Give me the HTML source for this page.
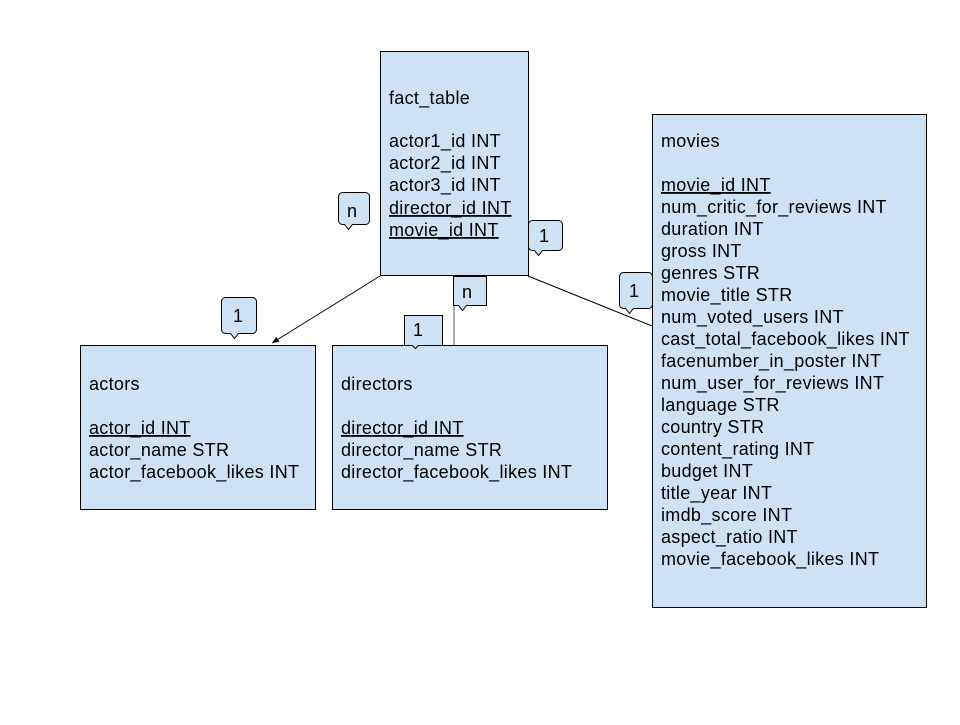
<!DOCTYPE html>
<html><head><style>
body{margin:0;background:#fff;width:960px;height:720px;overflow:hidden}
svg text{font-family:"Liberation Sans",Arial,sans-serif;font-size:18px;letter-spacing:0.3px;fill:#000}
</style></head><body>
<svg width="960" height="720" xmlns="http://www.w3.org/2000/svg">
<defs><marker id="a" markerWidth="8" markerHeight="8" refX="7" refY="4" orient="auto" markerUnits="userSpaceOnUse"><path d="M0,1 L7,4 L0,7 Z" fill="#000"/></marker></defs>
<g fill="#cfe2f3" stroke="#000" stroke-width="1">
<rect x="380.5" y="51.5" width="148" height="224"/>
<rect x="80.5" y="345.5" width="235" height="164"/>
<rect x="332.5" y="345.5" width="275" height="164"/>
<rect x="652.5" y="114.5" width="274" height="493"/>
</g>
<g stroke="#000" stroke-width="1" fill="none">
<line x1="380" y1="276" x2="272" y2="343" marker-end="url(#a)"/>
<line x1="454" y1="276" x2="454" y2="345" stroke="#555"/>
<line x1="528" y1="276" x2="652" y2="326"/>
</g>
<g fill="#cfe2f3" stroke="#000" stroke-width="1">
<path d="M342.5,192.5 h23 a4,4 0 0 1 4,4 v24 a4,4 0 0 1 -4,4 h-13 l-4,5 l-4,-5 h-2 a4,4 0 0 1 -4,-4 v-24 a4,4 0 0 1 4,-4z"/>
<path d="M532.5,220.5 h26 a4,4 0 0 1 4,4 v22 a4,4 0 0 1 -4,4 h-16 l-4,5 l-4,-5 h-2 a4,4 0 0 1 -4,-4 v-22 a4,4 0 0 1 4,-4z"/>
<path d="M453.5,276.5 h33 v29 h-20 l-4,5 l-4,-5 h-5z"/>
<path d="M404.5,315.5 h38 v30 h-24 l-3,3 l-3,-3 h-8z"/>
<path d="M225.5,297.5 h27 a4,4 0 0 1 4,4 v28 a4,4 0 0 1 -4,4 h-14 l-4,5 l-4,-5 h-5 a4,4 0 0 1 -4,-4 v-28 a4,4 0 0 1 4,-4z"/>
<path d="M623.5,272.5 h25 a4,4 0 0 1 4,4 v28 a4,4 0 0 1 -4,4 h-15 l-4,5 l-4,-5 h-2 a4,4 0 0 1 -4,-4 v-28 a4,4 0 0 1 4,-4z"/>
</g>
<text x="347" y="217">n</text>
<text x="539" y="242">1</text>
<text x="462" y="298">n</text>
<text x="413" y="336">1</text>
<text x="233" y="322">1</text>
<text x="629" y="297">1</text>
<g>
<text x="389" y="104">fact_table</text>
<text x="389" y="147">actor1_id INT</text>
<text x="389" y="169">actor2_id INT</text>
<text x="389" y="191">actor3_id INT</text>
<text x="389" y="214" text-decoration="underline">director_id INT</text>
<text x="389" y="236" text-decoration="underline">movie_id INT</text>
</g>
<g>
<text x="89" y="390">actors</text>
<text x="89" y="434" text-decoration="underline">actor_id INT</text>
<text x="89" y="456">actor_name STR</text>
<text x="89" y="478">actor_facebook_likes INT</text>
</g>
<g>
<text x="341" y="390">directors</text>
<text x="341" y="434" text-decoration="underline">director_id INT</text>
<text x="341" y="456">director_name STR</text>
<text x="341" y="478">director_facebook_likes INT</text>
</g>
<g>
<text x="661" y="147">movies</text>
<text x="661" y="191" text-decoration="underline">movie_id INT</text>
<text x="661" y="213">num_critic_for_reviews INT</text>
<text x="661" y="235">duration INT</text>
<text x="661" y="257">gross INT</text>
<text x="661" y="279">genres STR</text>
<text x="661" y="301">movie_title STR</text>
<text x="661" y="323">num_voted_users INT</text>
<text x="661" y="345">cast_total_facebook_likes INT</text>
<text x="661" y="367">facenumber_in_poster INT</text>
<text x="661" y="389">num_user_for_reviews INT</text>
<text x="661" y="411">language STR</text>
<text x="661" y="433">country STR</text>
<text x="661" y="455">content_rating INT</text>
<text x="661" y="477">budget INT</text>
<text x="661" y="499">title_year INT</text>
<text x="661" y="521">imdb_score INT</text>
<text x="661" y="543">aspect_ratio INT</text>
<text x="661" y="565">movie_facebook_likes INT</text>
</g>
</svg>
</body></html>
